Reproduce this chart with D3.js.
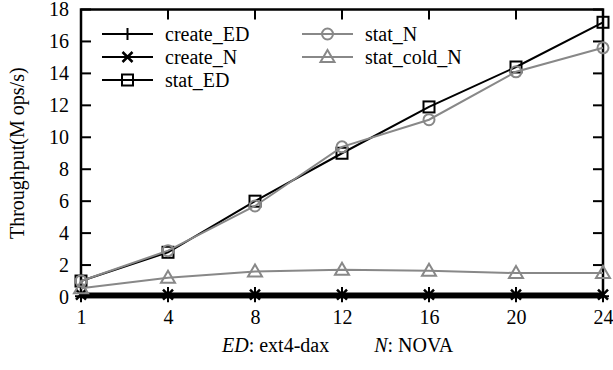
<!DOCTYPE html>
<html lang="en">
<head>
<meta charset="UTF-8">
<title>Throughput</title>
<script src="https://d3js.org/d3.v7.min.js"></script>
<style>
  body { margin: 0; background: #fff; }
  text { font-family: "Liberation Serif", "Times New Roman", serif; fill: #000; }
</style>
</head>
<body>
<div id="chart"></div>
<script>
const threads = [1, 4, 8, 12, 16, 20, 24];
const yTicks = [0, 2, 4, 6, 8, 10, 12, 14, 16, 18];

const createED = [0.05, 0.05, 0.05, 0.05, 0.05, 0.05, 0.05];
const createN = [0.15, 0.15, 0.15, 0.15, 0.15, 0.15, 0.15];
const statED = [1.0, 2.8, 6.0, 9.0, 11.9, 14.4, 17.2];
const statN = [1.0, 2.9, 5.7, 9.4, 11.1, 14.1, 15.6];
const statColdN = [0.55, 1.2, 1.6, 1.7, 1.65, 1.5, 1.5];

const w = 613, h = 370;
const pLeft = 81, pRight = 603, pTop = 9.5, pBottom = 297;
const fs = "20px";

const svg = d3.select("#chart").append("svg")
  .attr("width", w).attr("height", h);

const x = d3.scalePoint().domain(threads).range([pLeft, pRight]);
const y = d3.scaleLinear().domain([0, 18]).range([pBottom, pTop]);

const series = [
  { name: "create_ED", values: createED, color: "#000", marker: "plus" },
  { name: "create_N", values: createN, color: "#000", marker: "cross" },
  { name: "stat_ED", values: statED, color: "#000", marker: "square" },
  { name: "stat_N", values: statN, color: "#888", marker: "circle" },
  { name: "stat_cold_N", values: statColdN, color: "#888", marker: "triangle" }
];

function drawMarker(g, type, cx, cy, color) {
  if (type === "plus") {
    g.append("path").attr("d", `M${cx-6},${cy}H${cx+6}M${cx},${cy-6}V${cy+6}`)
      .attr("stroke", color).attr("stroke-width", 2);
  } else if (type === "cross") {
    g.append("path").attr("d", `M${cx-5},${cy-5}L${cx+5},${cy+5}M${cx-5},${cy+5}L${cx+5},${cy-5}`)
      .attr("stroke", color).attr("stroke-width", 2.5);
  } else if (type === "square") {
    g.append("rect").attr("x", cx-5.5).attr("y", cy-5.5).attr("width", 11).attr("height", 11)
      .attr("fill", "none").attr("stroke", color).attr("stroke-width", 2);
  } else if (type === "circle") {
    g.append("circle").attr("cx", cx).attr("cy", cy).attr("r", 5.5)
      .attr("fill", "none").attr("stroke", color).attr("stroke-width", 2);
  } else if (type === "triangle") {
    g.append("path").attr("d", `M${cx},${cy-7}L${cx+7},${cy+5}L${cx-7},${cy+5}Z`)
      .attr("fill", "none").attr("stroke", color).attr("stroke-width", 2);
  }
}

// frame ticks (inward)
const frame = svg.append("g");
yTicks.forEach(t => {
  frame.append("line").attr("x1", pLeft).attr("x2", pLeft + 10)
    .attr("y1", y(t)).attr("y2", y(t)).attr("stroke", "#000").attr("stroke-width", 2);
  frame.append("line").attr("x1", pRight).attr("x2", pRight - 10)
    .attr("y1", y(t)).attr("y2", y(t)).attr("stroke", "#000").attr("stroke-width", 2);
});
threads.forEach(t => {
  frame.append("line").attr("x1", x(t)).attr("x2", x(t))
    .attr("y1", pTop).attr("y2", pTop + 10).attr("stroke", "#000").attr("stroke-width", 2);
  frame.append("line").attr("x1", x(t)).attr("x2", x(t))
    .attr("y1", pBottom).attr("y2", pBottom - 10).attr("stroke", "#000").attr("stroke-width", 2);
});
frame.append("rect").attr("x", pLeft).attr("y", pTop)
  .attr("width", pRight - pLeft).attr("height", pBottom - pTop)
  .attr("fill", "none").attr("stroke", "#000").attr("stroke-width", 2.5);

// axis labels
const yAxis = d3.axisLeft(y).tickValues(yTicks).tickSize(0).tickPadding(12);
svg.append("g").attr("transform", `translate(${pLeft},0)`).call(yAxis)
  .call(g => g.select(".domain").remove())
  .selectAll("text").style("font-size", fs).style("font-family", "Liberation Serif");

const xAxis = d3.axisBottom(x).tickSize(0).tickPadding(13);
svg.append("g").attr("transform", `translate(0,${pBottom})`).call(xAxis)
  .call(g => g.select(".domain").remove())
  .selectAll("text").style("font-size", fs).style("font-family", "Liberation Serif");

// data
const line = d3.line().x((d, i) => x(threads[i])).y(d => y(d));
series.forEach(s => {
  const g = svg.append("g");
  g.append("path").datum(s.values).attr("d", line)
    .attr("fill", "none").attr("stroke", s.color)
    .attr("stroke-width", s.name.startsWith("create") ? 4 : 2);
  s.values.forEach((v, i) => drawMarker(g, s.marker, x(threads[i]), y(v), s.color));
});

// legend
const legend = svg.append("g");
series.forEach((s, i) => {
  const col = i < 3 ? 0 : 1;
  const row = i < 3 ? i : i - 3;
  const lx = col === 0 ? 102 : 302;
  const ly = 34 + row * 23;
  legend.append("line").attr("x1", lx).attr("x2", lx + 51)
    .attr("y1", ly).attr("y2", ly).attr("stroke", s.color).attr("stroke-width", 2);
  drawMarker(legend, s.marker, lx + 25.5, ly, s.color);
  legend.append("text").attr("x", lx + 63).attr("y", ly + 7)
    .style("font-size", fs).text(s.name);
});

// y label
svg.append("text")
  .attr("transform", `translate(24,${(pTop + pBottom) / 2}) rotate(-90)`)
  .attr("text-anchor", "middle").style("font-size", fs)
  .text("Throughput(M ops/s)");

// caption
const cap = svg.append("text").attr("x", 222).attr("y", 352).style("font-size", fs);
cap.append("tspan").style("font-style", "italic").text("ED");
cap.append("tspan").text(": ext4-dax");
cap.append("tspan").attr("dx", 45).style("font-style", "italic").text("N");
cap.append("tspan").text(": NOVA");
</script>
</body>
</html>
